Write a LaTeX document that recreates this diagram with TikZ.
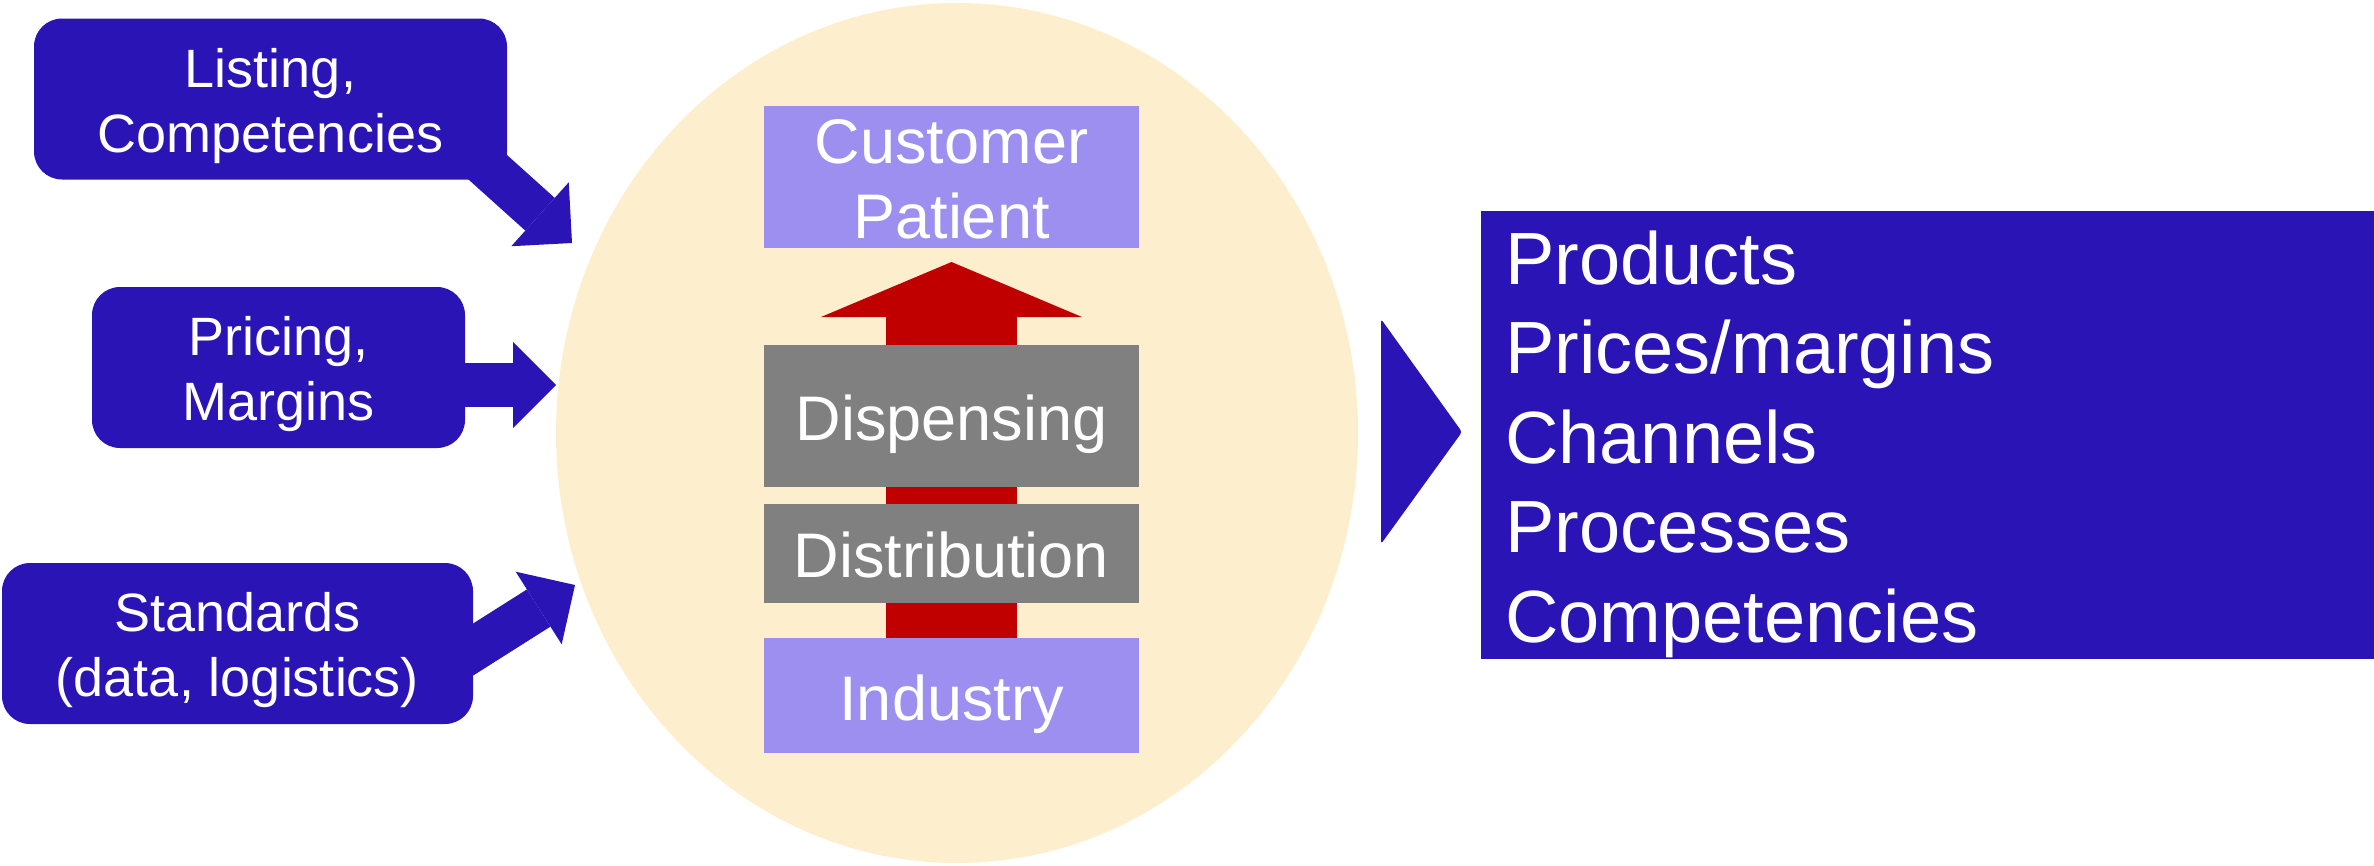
\documentclass[tikz,border=0pt]{standalone}
\usepackage{fontspec}
\setmainfont{Liberation Sans}
\usepackage{xcolor}
\usepackage{tikz}
\usetikzlibrary{arrows.meta,positioning}

\definecolor{navy}{RGB}{42,20,181}
\definecolor{lilac}{RGB}{156,143,240}
\definecolor{cream}{RGB}{253,239,205}
\definecolor{darkred}{RGB}{192,0,0}
\definecolor{midgrey}{RGB}{128,128,128}

\pgfdeclarelayer{bg}
\pgfdeclarelayer{flow}
\pgfsetlayers{bg,flow,main}

\begin{document}
\begin{tikzpicture}[x=1pt,y=-1pt,
  callout/.style={fill=navy,text=white,rounded corners=28pt,align=center,inner sep=0pt,
    minimum height=161pt,font=\fontsize{54}{65}\selectfont,text height=106pt,text depth=0pt},
  stage/.style={fill=#1,text=white,minimum width=375pt,inner sep=0pt,
    font=\fontsize{63}{75}\selectfont,text height=49pt,text depth=0pt},
  feed/.style={draw=navy,line width=44pt,-{Triangle[length=43pt,width=86pt,line width=0pt]}}]

  \useasboundingbox (0,0) rectangle (2374,865);
  \begin{pgfonlayer}{bg}
    \fill[cream] (957,433) ellipse [x radius=401,y radius=430];
  \end{pgfonlayer}

  % value chain
  \node[stage=lilac,minimum height=115pt] (ind) at (951.5,695.5) {Industry};
  \node[stage=midgrey,minimum height=99pt,above=35pt of ind] (dist) {Distribution};
  \node[stage=midgrey,minimum height=142pt,above=16pt of dist] (disp) {Dispensing};
  \node[stage=lilac,minimum height=142pt,align=center,text height=124pt,text depth=0pt,
    above=97pt of disp] (cust) {Customer\\Patient};
  \begin{pgfonlayer}{flow}
    \draw[draw=darkred,line width=131pt,-{Triangle[length=55pt,width=261pt,line width=0pt]}]
      (ind.center) -- ([yshift=-14pt]cust.south);
  \end{pgfonlayer}

  % influences
  \node[callout,minimum width=473pt] (lc) at (270.5,99) {Listing,\\Competencies};
  \node[callout,minimum width=373pt] (pm) at (278.5,367.5) {Pricing,\\Margins};
  \node[callout,minimum width=471pt] (sd) at (237.5,643.5) {Standards\\(data, logistics)};
  \coordinate (lctip) at (572,243);
  \coordinate (pmtip) at (556,385);
  \coordinate (sdtip) at (575,585);
  \begin{pgfonlayer}{flow}
    \draw[feed] ([shift={(-49,-39)}]lc.south east) -- (lctip);
    \draw[feed] ([shift={(-30,17.5)}]pm.east) -- (pmtip);
    \draw[feed] ([shift={(-34,27.5)}]sd.east) -- (sdtip);
  \end{pgfonlayer}

  % outcome
  \fill[navy,rounded corners=3pt] (1381,319) -- (1462,432) -- (1381,544) -- cycle;
  \node[fill=navy,text=white,anchor=north west,minimum height=448pt,text width=845pt,
    inner xsep=24pt,inner ysep=0pt,align=left,font=\fontsize{74}{89.5}\selectfont,
    text height=60pt,text depth=362pt] (res) at (1481,211)
    {Products\\Prices/margins\\Channels\\Processes\\Competencies};
\end{tikzpicture}
\end{document}
